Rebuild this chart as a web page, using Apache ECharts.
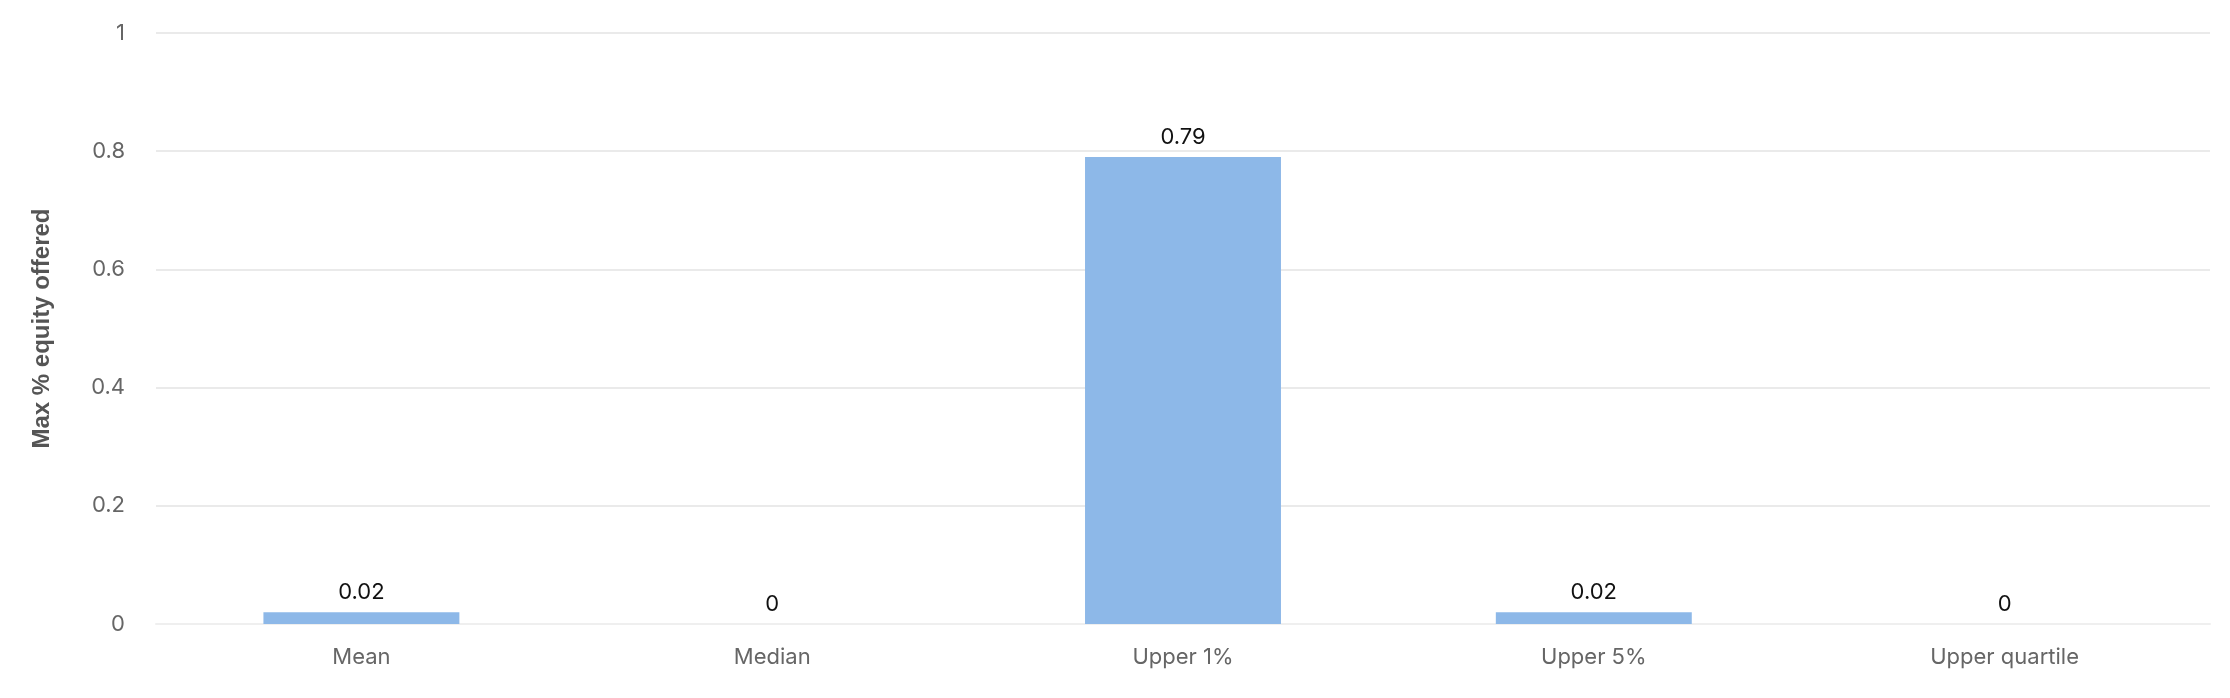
<!DOCTYPE html>
<html><head><meta charset="utf-8">
<script src="https://cdn.jsdelivr.net/npm/echarts@6/dist/echarts.min.js"></script>
<style>html,body{margin:0;padding:0;background:#fff}#c{width:2230px;height:698px}</style>
</head><body><div id="c"></div>
<script>
const categories = ['Mean', 'Median', 'Upper 1%', 'Upper 5%', 'Upper quartile'];
const values = [0.02, 0, 0.79, 0.02, 0];
const yTicks = [0, 0.2, 0.4, 0.6, 0.8, 1];
const yName = 'Max % equity offered';

const chart = echarts.init(document.getElementById('c'));
chart.setOption({
  animation: false,
  grid: { left: 156, right: 20, top: 33, bottom: 74 },
  xAxis: {
    type: 'category', data: categories,
    axisLine: { lineStyle: { color: '#efefef', width: 2 } },
    axisTick: { show: false },
    axisLabel: { color: '#666', fontSize: 22, fontFamily: 'Inter', margin: 22 }
  },
  yAxis: {
    type: 'value', min: yTicks[0], max: yTicks[yTicks.length - 1], interval: 0.2,
    name: yName, nameLocation: 'middle', nameGap: 102,
    nameTextStyle: { color: '#555', fontSize: 24, fontWeight: 'bold', fontFamily: 'Liberation Sans' },
    axisLine: { show: false }, axisTick: { show: false },
    axisLabel: { color: '#666', fontSize: 22, fontFamily: 'Inter', margin: 31 },
    splitLine: { lineStyle: { color: '#e3e3e3', width: 1.5 } }
  },
  series: [{
    type: 'bar', data: values, barWidth: '47.7%',
    itemStyle: { color: '#8db8e8' },
    label: { show: true, position: 'top', distance: 9, color: '#111', fontSize: 22, fontFamily: 'Inter' }
  }]
});
</script></body></html>
